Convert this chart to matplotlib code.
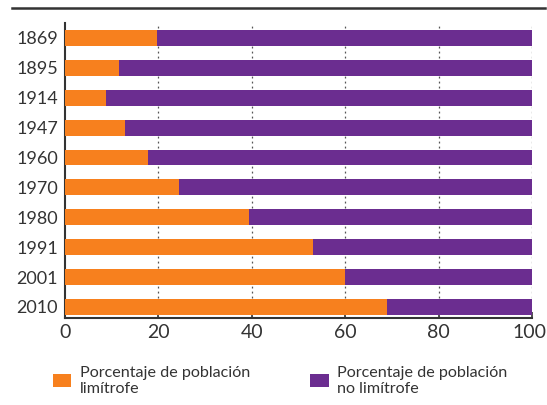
import matplotlib
matplotlib.use("Agg")
import matplotlib.pyplot as plt
import matplotlib.transforms as mtransforms
from matplotlib.lines import Line2D
from matplotlib.patches import Patch

years = ["1869", "1895", "1914", "1947", "1960", "1970", "1980", "1991", "2001", "2010"]
limitrofe = [19.7, 11.6, 8.8, 12.8, 17.8, 24.4, 39.4, 53.1, 60.0, 69.0]
no_limitrofe = [100 - v for v in limitrofe]
xticks = [0, 20, 40, 60, 80, 100]
legend_labels = ["Porcentaje de población\nlimítrofe", "Porcentaje de población\nno limítrofe"]

orange = "#F7801E"
purple = "#6B2D90"

plt.rcParams['font.family'] = ['Lato', 'DejaVu Sans']

fig = plt.figure(figsize=(5.47, 4.05), dpi=100)
ax = fig.add_axes([0.119, 0.2148, 0.8536, 0.7284])

y = list(range(len(years)))
ax.barh(y, limitrofe, height=0.53, color=orange, zorder=3)
ax.barh(y, no_limitrofe, left=limitrofe, height=0.53, color=purple, zorder=3)

ax.set_xlim(0, 100)
ax.set_ylim(9.37, -0.5)
ax.set_yticks(y)
ax.set_yticklabels(years, fontsize=13, color="#333333")
ax.set_xticks(xticks)
ax.set_xticklabels([str(t) for t in xticks], fontsize=14, color="#333333")
ax.tick_params(axis='y', length=0, pad=5)
ax.tick_params(axis='x', direction='in', length=4, width=1.2, color="#333333", pad=4)

# keep the last tick label inside the figure
lbl = ax.get_xticklabels()[-1]
lbl.set_transform(lbl.get_transform() + mtransforms.ScaledTranslation(-3 / 100, 0, fig.dpi_scale_trans))

for t in xticks[1:]:
    ax.axvline(t, color="#555555", linestyle=(0, (1.5, 2.5)), linewidth=0.9, zorder=1)

for s in ["top", "right"]:
    ax.spines[s].set_visible(False)
for s in ["left", "bottom"]:
    ax.spines[s].set_color("#333333")
    ax.spines[s].set_linewidth(1.5)

fig.add_artist(Line2D([12 / 547, 545 / 547], [1 - 8 / 405, 1 - 8 / 405],
                      color="#333333", linewidth=1.8, transform=fig.transFigure))

# legend
h1 = Patch(facecolor=orange)
h2 = Patch(facecolor=purple)
fig.legend([h1], [legend_labels[0]], loc="upper left", bbox_to_anchor=(0.085, 0.113),
           frameon=False, fontsize=11.6, handlelength=1.15, handleheight=0.85, handletextpad=0.5,
           borderaxespad=0, labelcolor="#333333", labelspacing=0.2)
fig.legend([h2], [legend_labels[1]], loc="upper left", bbox_to_anchor=(0.555, 0.113),
           frameon=False, fontsize=11.6, handlelength=1.15, handleheight=0.85, handletextpad=0.5,
           borderaxespad=0, labelcolor="#333333", labelspacing=0.2)

fig.savefig("out.png", dpi=100)
